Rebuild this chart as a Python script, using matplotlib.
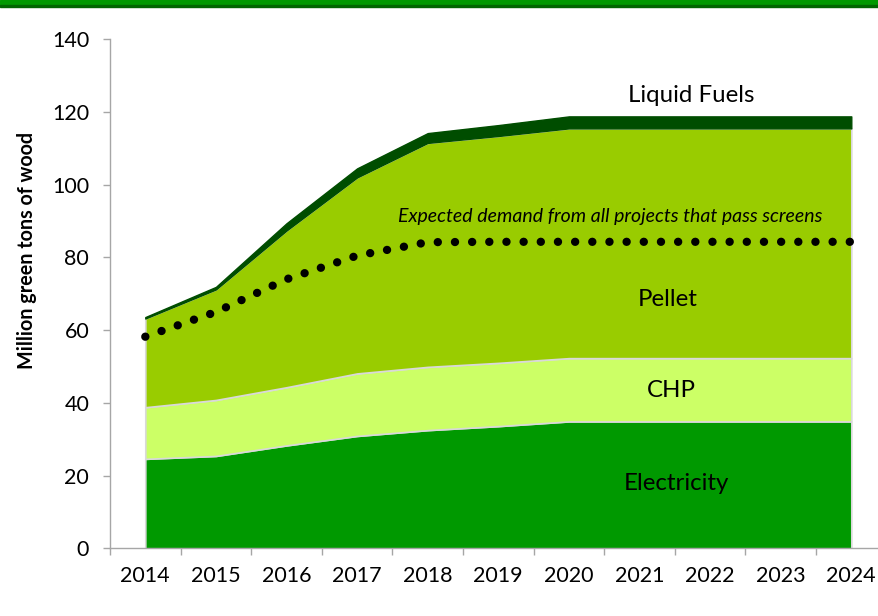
import numpy as np
import matplotlib
matplotlib.use("Agg")
import matplotlib.pyplot as plt
from matplotlib.patches import Rectangle

# ==========================================
# Data (million green tons of wood)
# ==========================================
years = [2014, 2015, 2016, 2017, 2018, 2019, 2020, 2021, 2022, 2023, 2024]
electricity = [24.6, 25.4, 28.3, 30.9, 32.5, 33.6, 34.9, 34.9, 34.9, 34.9, 34.9]
chp = [14.2, 15.4, 16.0, 17.2, 17.4, 17.4, 17.4, 17.4, 17.4, 17.4, 17.4]
pellet = [24.4, 30.4, 43.1, 53.9, 61.6, 62.4, 63.2, 63.2, 63.2, 63.2, 63.2]
liquid_fuels = [0.4, 0.7, 2.0, 2.5, 2.7, 3.0, 3.3, 3.3, 3.3, 3.3, 3.3]
expected_demand = [58.2, 65.0, 74.0, 80.5, 84.2, 84.3, 84.3, 84.3, 84.3, 84.3, 84.3]

y_ticks = [0, 20, 40, 60, 80, 100, 120, 140]

# ==========================================
# Style
# ==========================================
plt.rcParams['font.family'] = ['Lato', 'DejaVu Sans']
AXIS_GRAY = '#a6a6a6'
C_ELEC = '#009900'
C_CHP = '#ccff66'
C_PELLET = '#99cc00'
C_LIQUID = '#004d00'

fig = plt.figure(figsize=(8.79, 6.16), dpi=100)
W, H = 879, 616
ax = fig.add_axes([110 / W, (H - 548.3) / H, 776.6 / W, 509 / H])

x = np.arange(len(years))
polys = ax.stackplot(x, electricity, chp, pellet, liquid_fuels,
                     colors=[C_ELEC, C_CHP, C_PELLET, C_LIQUID],
                     linewidth=1.2, edgecolor='#d9d9d9', zorder=2)
polys[3].set_edgecolor(C_LIQUID)
polys[3].set_linewidth(1.0)

# Expected demand dotted line
ax.plot(x, expected_demand, color='black', linewidth=6.0,
        linestyle=(0, (0.01, 2.05)), dash_capstyle='round', zorder=3)

ax.set_xlim(-0.5, len(years) - 0.5)
ax.set_ylim(0, 140)
ax.set_yticks(y_ticks)
ax.set_xticks(x)
ax.set_xticklabels([str(y) for y in years])
ax.set_xticks(np.arange(-0.5, len(years), 1.0), minor=True)

for side in ['top', 'right']:
    ax.spines[side].set_visible(False)
for side in ['left', 'bottom']:
    ax.spines[side].set_color(AXIS_GRAY)
    ax.spines[side].set_linewidth(1.0)

ax.tick_params(axis='y', length=5, width=1, color=AXIS_GRAY, labelsize=15.5, pad=10)
ax.tick_params(axis='x', which='major', length=0, labelsize=15.5, pad=13)
ax.tick_params(axis='x', which='minor', length=5, width=1, color=AXIS_GRAY)

# Labels inside the chart
ax.text(7.73, 124.5, 'Liquid Fuels', fontsize=17.3, ha='center', va='center')
ax.text(7.4, 68.5, 'Pellet', fontsize=17.3, ha='center', va='center')
ax.text(7.45, 43.3, 'CHP', fontsize=17.3, ha='center', va='center')
ax.text(7.52, 17.7, 'Electricity', fontsize=17.3, ha='center', va='center')
ax.text(6.58, 91.2, 'Expected demand from all projects that pass screens',
        fontsize=14, style='italic', ha='center', va='center')

fig.text(27 / W, 1 - 250 / H, 'Million green tons of wood', rotation=90,
         fontsize=14.2, fontweight='bold', ha='center', va='center')

# Green band at the top of the slide
fig.add_artist(Rectangle((0, 1 - 5 / H), 1, 5 / H, transform=fig.transFigure,
                         color='#009900', zorder=5))
fig.add_artist(Rectangle((0, 1 - 7 / H), 1, 2 / H, transform=fig.transFigure,
                         color='#006600', zorder=5))

fig.savefig('out.png', dpi=100)
